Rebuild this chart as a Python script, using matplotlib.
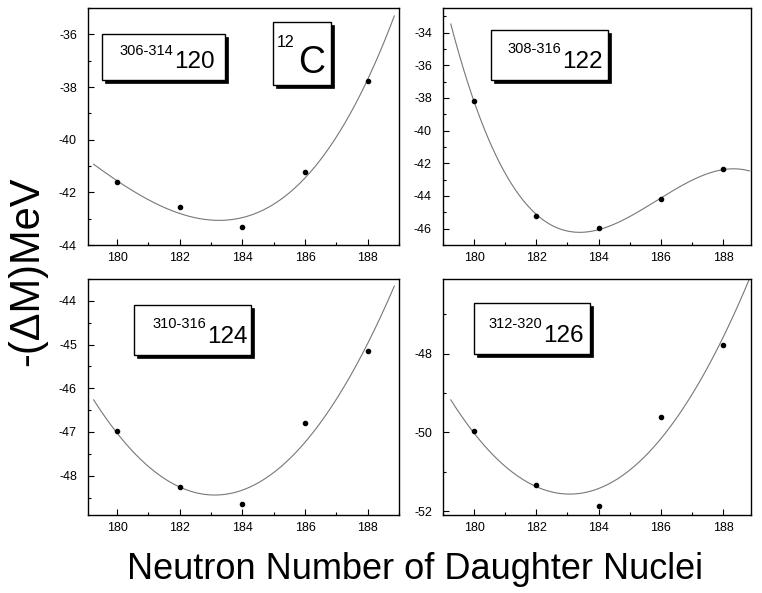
import numpy as np
import matplotlib.pyplot as plt
from matplotlib.patches import Rectangle
from matplotlib.ticker import MultipleLocator

plt.rcParams['font.family'] = ['Liberation Sans', 'DejaVu Sans']
plt.rcParams['axes.unicode_minus'] = False

W, H = 762, 593

# neutron number of daughter nuclei
n = [180, 182, 184, 186, 188]

# -(delta M) in MeV for each parent chain
dm_120 = [-41.62, -42.57, -43.31, -41.22, -37.77]
dm_122 = [-38.21, -45.21, -45.94, -44.21, -42.37]
dm_124 = [-46.97, -48.27, -48.65, -46.80, -45.14]
dm_126 = [-49.97, -51.33, -51.88, -49.61, -47.79]

labels_sup = ["306-314", "308-316", "310-316", "312-320"]
labels_main = ["120", "122", "124", "126"]
fit_deg = [3, 3, 2, 2]


def fx(x):
    return x / W


def fy(y):
    return 1 - y / H


def px_rect(l, t, r, b):
    return [fx(l), fy(b), (r - l) / W, (b - t) / H]


def shadow_box(fig, l, t, r, b, off=3.5):
    fig.add_artist(Rectangle((fx(l + off), fy(b + off)), (r - l) / W, (b - t) / H,
                             transform=fig.transFigure, facecolor='black',
                             edgecolor='black', lw=0.5, zorder=5))
    fig.add_artist(Rectangle((fx(l), fy(b)), (r - l) / W, (b - t) / H,
                             transform=fig.transFigure, facecolor='white',
                             edgecolor='black', lw=1.0, zorder=6))


fig = plt.figure(figsize=(W / 100, H / 100), dpi=100)

# axes boxes in pixels: left, top, right, bottom
boxes = [(88, 8, 399, 245), (443, 8, 751, 245),
         (88, 279, 399, 515), (443, 279, 751, 515)]
xlims = [(179.07, 189.0), (179.0, 188.9), (179.07, 189.0), (179.0, 188.9)]
ylims = [(-44.0, -35.0), (-47.0, -32.5), (-48.9, -43.5), (-52.1, -46.1)]
ymajor = [2, 2, 1, 2]

series = [dm_120, dm_122, dm_124, dm_126]

for i, (b, y) in enumerate(zip(boxes, series)):
    ax = fig.add_axes(px_rect(*b))
    coef = np.polyfit(n, y, fit_deg[i])
    xs = np.linspace(179.25, 188.85, 300)
    ax.plot(xs, np.polyval(coef, xs), color='#777777', lw=0.8)
    ax.plot(n, y, 'o', color='black', ms=3)
    ax.set_xlim(*xlims[i])
    ax.set_ylim(*ylims[i])
    ax.xaxis.set_major_locator(MultipleLocator(2))
    ax.xaxis.set_minor_locator(MultipleLocator(1))
    ax.yaxis.set_major_locator(MultipleLocator(ymajor[i]))
    ax.yaxis.set_minor_locator(MultipleLocator(ymajor[i] / 2))
    ax.tick_params(which='both', direction='in', labelsize=9, width=0.8)
    ax.tick_params(which='major', length=4)
    ax.tick_params(which='minor', length=2.5)
    ax.tick_params(axis='x', pad=5)
    ax.tick_params(axis='y', pad=8)
    for s in ax.spines.values():
        s.set_linewidth(1.0)

# label boxes (pixel positions)
lbl_boxes = [(102, 34, 225, 80), (491, 30, 608, 80),
             (134, 305, 251, 355), (474, 303, 590, 354)]
lbl_anchor = [(173, 68.3, 55), (561, 68.3, 53.3), (206, 343.3, 328.3), (542.5, 341.7, 327.5)]
for (l, t, r, bb), (xa, ybase, ysup), sup, main in zip(lbl_boxes, lbl_anchor, labels_sup, labels_main):
    shadow_box(fig, l, t, r, bb, off=3)
    fig.text(fx(xa), fy(ysup), sup, fontsize=10.5, ha='right', va='baseline', zorder=7)
    fig.text(fx(xa + 1), fy(ybase), main, fontsize=17.5, ha='left', va='baseline', zorder=7)

# 12C box
shadow_box(fig, 272.7, 22.3, 330.7, 85, off=3)
fig.text(fx(294), fy(46.7), "12", fontsize=11.5, ha='right', va='baseline', zorder=7)
fig.text(fx(298), fy(73.3), "C", fontsize=27, ha='left', va='baseline', zorder=7)

fig.text(fx(27.5), fy(271), "-(\u0394M)MeV", fontsize=30, rotation=90,
         ha='center', va='center')
fig.text(fx(415), fy(579), "Neutron Number of Daughter Nuclei", fontsize=26,
         ha='center', va='baseline')

fig.savefig("out.png", dpi=100)
